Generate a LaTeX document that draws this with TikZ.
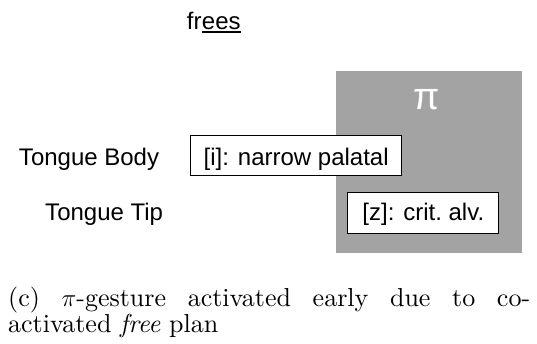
\documentclass[tikz,border=0pt]{standalone}
\usepackage{fontspec}
\newfontfamily\arial{Liberation Sans}
\newfontfamily\capfont{lmroman10}[Extension=.otf, UprightFont=*-regular, ItalicFont=*-italic]
\definecolor{pigray}{RGB}{163,163,163}
\tikzset{
  sanslabel/.style={font=\arial\fontsize{24}{28}\selectfont, inner sep=0pt},
  gesturebox/.style={draw=black, fill=white, line width=1pt, inner sep=0pt, font=\arial\fontsize{24}{28}\selectfont},
  captionline/.style={font=\capfont\fontsize{26}{26}\selectfont, inner sep=0pt, anchor=base west},
}
\begin{document}
\begin{tikzpicture}[x=1pt,y=-1pt]
\useasboundingbox (0,0) rectangle (537,343);
% planning gesture block
\fill[pigray] (336,71) rectangle (521.7,252.7);
\node[font=\arial\fontsize{38}{40}\selectfont, text=white, inner sep=0pt] (pi) at (426.7,100) {π};
% word
\node[sanslabel, anchor=base west] (fr) at (186.7,29.3) {fr};
\node[sanslabel, anchor=base west] (ees) at (fr.base east) {ees};
\draw[line width=2pt] ([yshift=-3pt]ees.base west) -- ([yshift=-3pt]ees.base east);
% tiers
\node[sanslabel, anchor=base east] (tb) at (159.3,165) {Tongue Body};
\node[sanslabel, anchor=base east] (tt) at (163.3,220) {Tongue Tip};
% gestures
\node[gesturebox, minimum width=211pt, minimum height=40pt] (gi) at (296.2,155) {};
\node[sanslabel, anchor=base] (gitext) at (296.2,165) {[i]: narrow palatal};
\node[gesturebox, minimum width=151.3pt, minimum height=41pt] (gz) at (423.3,212.8) {};
\node[sanslabel, anchor=base] (gztext) at (423.3,220.5) {[z]: crit.\ alv.};
% caption
\node[captionline] (cap1) at (8,306) {\makebox[522pt][s]{(c) $\pi$-gesture activated early due to co-}};
\node[captionline] (cap2) at (8,332) {activated \textit{free} plan};
\end{tikzpicture}
\end{document}
